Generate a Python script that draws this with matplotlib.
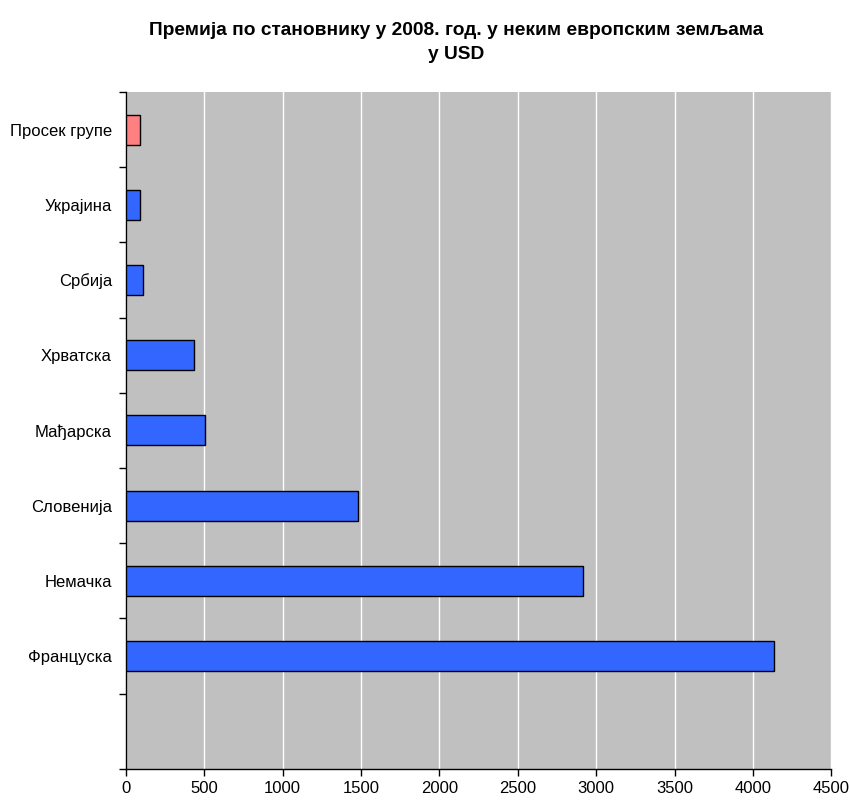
import numpy as np
import matplotlib.pyplot as plt
from matplotlib.ticker import MultipleLocator, FixedLocator

plt.rcParams['font.family'] = ['Liberation Sans', 'DejaVu Sans']

# premium per capita, 2008, USD (top to bottom)
countries = ["Просек групе", "Украјина", "Србија", "Хрватска",
             "Мађарска", "Словенија", "Немачка", "Француска"]
premium_usd = [90, 90, 112, 436, 502, 1484, 2918, 4135]
bar_colors = ["#FF8080"] + ["#3366FF"] * 7

n_slots = len(countries) + 1  # one empty slot under the last bar

fig = plt.figure(figsize=(8.5, 8.0), dpi=100)
ax = fig.add_axes([0.148, 0.039, 0.83, 0.846])
ax.set_facecolor("#C0C0C0")

y = np.arange(len(countries))
ax.barh(y, premium_usd, height=0.4, color=bar_colors,
        edgecolor="black", linewidth=1.0, zorder=3)

ax.set_xlim(0, 4500)
ax.set_ylim(n_slots - 0.5, -0.5)

ax.xaxis.set_major_locator(MultipleLocator(500))
ax.grid(axis="x", color="white", linewidth=1.0, zorder=0)
ax.set_axisbelow(True)

# tick marks between categories, labels centred on the bars
ax.yaxis.set_major_locator(FixedLocator(np.arange(n_slots + 1) - 0.5))
ax.yaxis.set_major_formatter(plt.NullFormatter())
ax.yaxis.set_minor_locator(FixedLocator(y))
ax.set_yticklabels(countries, minor=True)
ax.tick_params(axis="y", which="major", length=5, width=1, direction="out")
ax.tick_params(axis="y", which="minor", length=0, pad=10, labelsize=12)
ax.tick_params(axis="x", length=5, width=1, direction="out", pad=4, labelsize=12)

for side in ("top", "right"):
    ax.spines[side].set_visible(False)
for side in ("left", "bottom"):
    ax.spines[side].set_color("black")
    ax.spines[side].set_linewidth(1.0)

fig.text(0.537, 0.947, "Премија по становнику у 2008. год. у неким европским земљама\nу USD",
         ha="center", va="center", fontsize=13.8, fontweight="bold", linespacing=1.6)

fig.savefig("out.png", dpi=100)
